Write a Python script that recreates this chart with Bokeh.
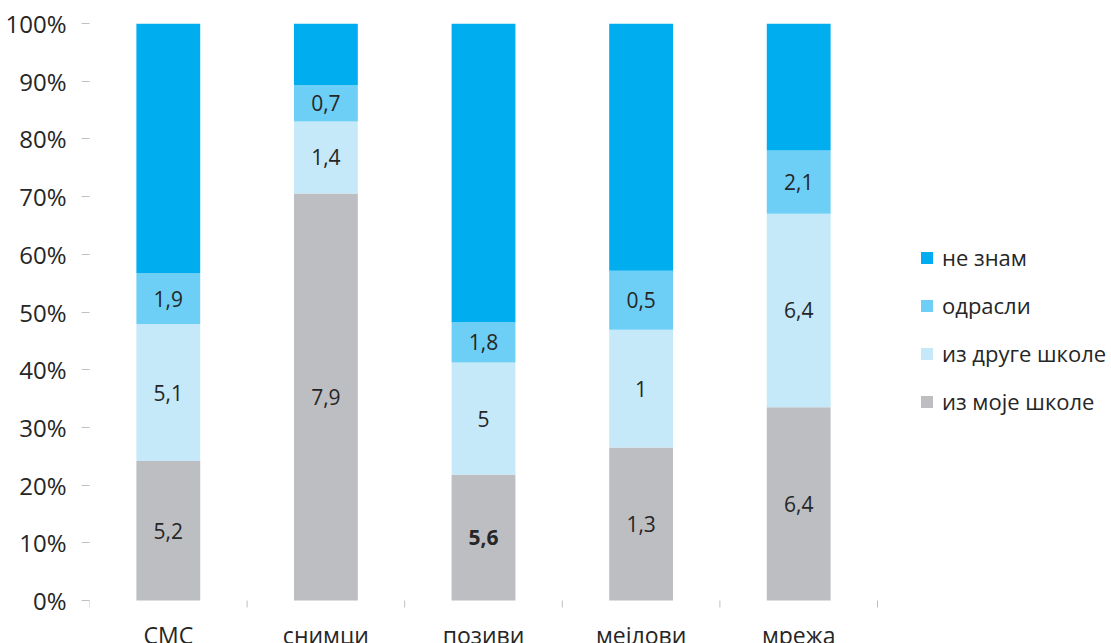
from bokeh.plotting import figure
from bokeh.models import ColumnDataSource, FixedTicker, Legend, LegendItem, Range1d
from bokeh.core.properties import value
from bokeh.embed import file_html
from bokeh.resources import INLINE

categories = ["СМС", "снимци", "позиви", "мејлови", "мрежа"]
series = ["из моје школе", "из друге школе", "одрасли", "не знам"]
iz_moje = [5.2, 7.9, 5.6, 1.3, 6.4]
iz_druge = [5.1, 1.4, 5.0, 1.0, 6.4]
odrasli = [1.9, 0.7, 1.8, 0.5, 2.1]
ne_znam = [9.3, 1.2, 13.3, 2.1, 4.2]
colors = ["#BDBEC2", "#C5E9F9", "#6DCFF6", "#00AEEF"]
y_ticks = [0, 10, 20, 30, 40, 50, 60, 70, 80, 90, 100]
y_tick_labels = [f"{t}%" for t in y_ticks]
bold_labels = [(2, 0)]  # (category index, series index)

FONT = "Open Sans"
TXT = "#262626"
TICK = "#BFBFBF"

W, H = 1111, 643
LEFT, TOP = 89, 23
PLOT_W, PLOT_H = 788, 577          # pixel size of the 5-category x 100% area
n = len(categories)
unit_x = PLOT_W / n
unit_y = PLOT_H / 100.0
x_end = (W - LEFT) / unit_x
y_start = -(H - TOP - PLOT_H) / unit_y

raw = [iz_moje, iz_druge, odrasli, ne_znam]
keys = ["s0", "s1", "s2", "s3"]
xs = [i + 0.5 for i in range(n)]
totals = [sum(r[i] for r in raw) for i in range(n)]
data = {"x": xs}
for k, r in zip(keys, raw):
    data[k] = [100.0 * r[i] / totals[i] for i in range(n)]
src = ColumnDataSource(data)

p = figure(width=W, height=H, output_backend="svg", toolbar_location=None,
           x_range=Range1d(0, x_end), y_range=Range1d(y_start, 100),
           min_border_left=LEFT, min_border_right=0, min_border_top=TOP, min_border_bottom=0)
p.outline_line_color = None
p.xgrid.grid_line_color = None
p.ygrid.grid_line_color = None
p.xaxis.visible = False

rs = p.vbar_stack(keys, x="x", width=0.405, color=colors, line_color=None, source=src)

# data labels
lx, ly, lt, lst = [], [], [], []
for si in range(3):
    for ci in range(n):
        base = sum(data[keys[j]][ci] for j in range(si))
        lx.append(xs[ci])
        ly.append(base + data[keys[si]][ci] / 2)
        lt.append(f"{raw[si][ci]:g}".replace(".", ","))
        lst.append("bold" if (ci, si) in bold_labels else "normal")
lsrc = ColumnDataSource(dict(x=lx, y=ly, t=lt, st=lst))
p.text(x="x", y="y", text="t", source=lsrc, text_align="center", text_baseline="middle",
       text_font=value(FONT), text_font_size="21px", text_color=TXT, text_font_style="st")

# category axis: boundary ticks and centred labels
bounds = list(range(n + 1))
p.segment(x0=bounds, x1=bounds, y0=[0] * len(bounds), y1=[-7 / unit_y] * len(bounds),
          line_color=TICK, line_width=1)
p.text(x=xs, y=[0] * n, text=categories, text_align="center", text_baseline="top",
       y_offset=18, text_font=value(FONT), text_font_size="23px", text_color=TXT)

ya = p.yaxis[0]
ya.ticker = FixedTicker(ticks=y_ticks)
ya.major_label_overrides = {t: l for t, l in zip(y_ticks, y_tick_labels)}
ya.axis_line_color = None
ya.major_tick_out = 8
ya.major_tick_in = 0
ya.major_tick_line_color = TICK
ya.minor_tick_line_color = None
ya.major_label_standoff = 15
ya.major_label_text_font = FONT
ya.major_label_text_font_size = "24px"
ya.major_label_text_color = TXT

items = [LegendItem(label=series[i], renderers=[rs[i]]) for i in [3, 2, 1, 0]]
legend = Legend(items=items, location=(830, 227), orientation="vertical",
                border_line_color=None, background_fill_alpha=0, padding=0, margin=0,
                glyph_width=15, glyph_height=15, label_height=30, spacing=18,
                label_standoff=8, label_text_font=FONT, label_text_font_size="22px",
                label_text_color=TXT)
p.add_layout(legend, "center")

open("out.html", "w").write(file_html(p, INLINE))
